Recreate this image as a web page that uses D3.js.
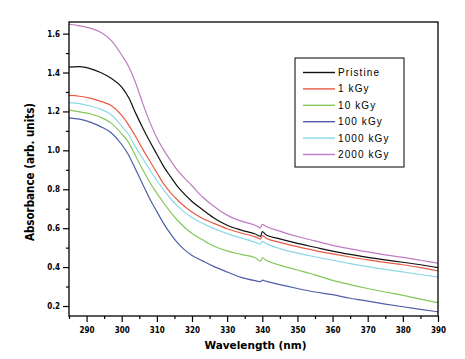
<!DOCTYPE html>
<html><head><meta charset="utf-8">
<script src="https://cdn.jsdelivr.net/npm/d3@7"></script>
<style>body{margin:0;background:#fff}svg{display:block}</style>
</head><body><div id="chart"></div>
<script>
const wavelengths = [285,288,291,294,297,300,302,304,306,308,310,312,314,316,318,320,323,326,330,334,338,339.5,340,341,345,350,355,360,365,370,375,380,385,390];
const seriesNames = ["Pristine","1 kGy","10 kGy","100 kGy","1000 kGy","2000 kGy"];
const pristine = [1.428,1.430,1.420,1.400,1.370,1.325,1.270,1.190,1.115,1.045,0.980,0.915,0.862,0.812,0.772,0.737,0.695,0.655,0.615,0.590,0.570,0.558,0.583,0.566,0.545,0.522,0.502,0.482,0.465,0.450,0.437,0.425,0.412,0.397];
const kGy1 = [1.282,1.278,1.268,1.252,1.230,1.180,1.130,1.070,1.005,0.945,0.885,0.826,0.780,0.742,0.710,0.683,0.650,0.626,0.597,0.575,0.555,0.545,0.562,0.550,0.527,0.505,0.485,0.468,0.452,0.437,0.424,0.412,0.397,0.380];
const kGy10 = [1.207,1.198,1.188,1.170,1.140,1.085,1.040,0.970,0.900,0.835,0.780,0.728,0.680,0.638,0.602,0.573,0.540,0.510,0.483,0.465,0.448,0.430,0.448,0.436,0.410,0.385,0.360,0.332,0.310,0.290,0.272,0.255,0.235,0.217];
const kGy100 = [1.167,1.160,1.145,1.122,1.090,1.030,0.975,0.900,0.825,0.750,0.685,0.622,0.568,0.522,0.487,0.460,0.432,0.405,0.375,0.347,0.330,0.325,0.333,0.328,0.310,0.290,0.272,0.258,0.240,0.225,0.210,0.196,0.183,0.170];
const kGy1000 = [1.245,1.240,1.228,1.212,1.183,1.125,1.080,1.015,0.958,0.900,0.845,0.795,0.750,0.712,0.680,0.655,0.625,0.600,0.572,0.550,0.527,0.518,0.532,0.522,0.495,0.472,0.453,0.435,0.418,0.402,0.388,0.375,0.362,0.348];
const kGy2000 = [1.648,1.640,1.628,1.607,1.565,1.490,1.430,1.345,1.240,1.145,1.065,1.000,0.945,0.895,0.855,0.818,0.760,0.715,0.667,0.636,0.615,0.602,0.620,0.610,0.585,0.557,0.535,0.512,0.494,0.478,0.463,0.450,0.435,0.420];
const xTicks = [290,300,310,320,330,340,350,360,370,380,390];
const yTicks = [0.2,0.4,0.6,0.8,1.0,1.2,1.4,1.6];
const colors = ["#111111","#e85a44","#86c75a","#4f5fa8","#8cd8e6","#bf7cc4"];
const allSeries = [pristine,kGy1,kGy10,kGy100,kGy1000,kGy2000];

const W=465,H=359;
const svg=d3.select("#chart").append("svg").attr("width",W).attr("height",H);
const L=69,R=438,T=22,B=316;
const x=d3.scaleLinear().domain([285,390]).range([L,R]);
const y=d3.scaleLinear().domain([0.2,1.6]).range([306,33.6]);

const line=d3.line().curve(d3.curveMonotoneX).x(d=>x(d[0])).y(d=>y(d[1]));
allSeries.forEach((s,i)=>{
  svg.append("path").datum(wavelengths.map((w,j)=>[w,s[j]]))
    .attr("d",line).attr("fill","none").attr("stroke",colors[i]).attr("stroke-width",1.2);
});

// frame
svg.append("rect").attr("x",L).attr("y",T).attr("width",R-L).attr("height",B-T)
  .attr("fill","none").attr("stroke","#000").attr("stroke-width",1.3);

const fontTick="'DejaVu Sans Condensed','DejaVu Sans',sans-serif";
// x axis
const xMinor=d3.range(285,391,5);
svg.append("g").attr("transform",`translate(0,${B})`)
  .call(d3.axisBottom(x).tickValues(xTicks).tickFormat(d3.format("d")).tickSize(6).tickPadding(5));
svg.append("g").attr("transform",`translate(0,${B})`)
  .call(d3.axisBottom(x).tickValues(xMinor.filter(v=>v%10!==0)).tickFormat("").tickSize(3));
// y axis
const yMinor=d3.range(0.3,1.65,0.2);
svg.append("g").attr("transform",`translate(${L},0)`)
  .call(d3.axisLeft(y).tickValues(yTicks).tickFormat(d3.format(".1f")).tickSize(6).tickPadding(3));
svg.append("g").attr("transform",`translate(${L},0)`)
  .call(d3.axisLeft(y).tickValues(yMinor).tickFormat("").tickSize(3));
svg.selectAll(".domain").remove();
svg.selectAll(".tick line").attr("stroke","#000").attr("stroke-width",1.2);
svg.selectAll(".tick text").attr("font-family",fontTick).attr("font-weight","bold")
  .attr("font-size","8px").attr("fill","#000");

// axis titles
svg.append("text").attr("x",(L+R)/2+2).attr("y",349).attr("text-anchor","middle")
  .attr("font-family","'DejaVu Sans',sans-serif").attr("font-weight","bold").attr("font-size","10.5px")
  .text("Wavelength (nm)");
svg.append("text").attr("transform","translate(34,172) rotate(-90)").attr("text-anchor","middle")
  .attr("font-family","'DejaVu Sans Condensed','DejaVu Sans',sans-serif").attr("font-weight","bold").attr("font-size","11.5px")
  .text("Absorbance (arb. units)");

// legend
const lg=svg.append("g");
lg.append("rect").attr("x",295).attr("y",58).attr("width",109).attr("height",109)
  .attr("fill","#fff").attr("stroke","#000").attr("stroke-width",1);
seriesNames.forEach((n,i)=>{
  const yy=72.5+i*16.4;
  lg.append("line").attr("x1",303).attr("x2",335).attr("y1",yy).attr("y2",yy)
    .attr("stroke",colors[i]).attr("stroke-width",1.4);
  lg.append("text").attr("x",338).attr("y",yy+3.5).attr("font-family","'Liberation Sans',Arial,sans-serif")
    .attr("font-size","10px").attr("letter-spacing","1.1px").attr("fill","#000").text(n);
});
</script></body></html>
